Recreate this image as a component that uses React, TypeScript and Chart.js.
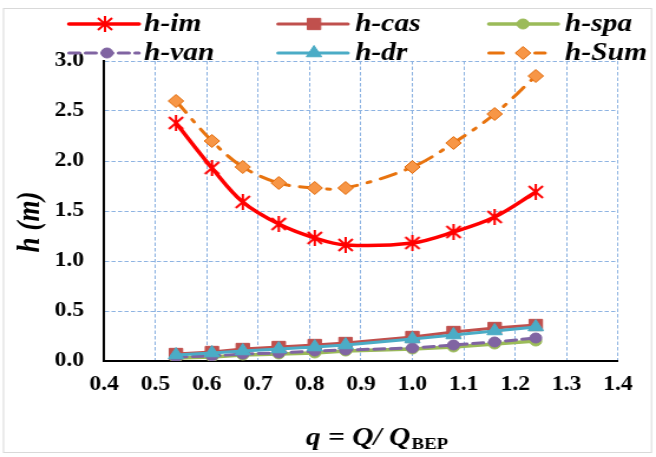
import React, { useEffect, useRef } from 'react';
import { Chart, registerables } from 'chart.js';
import { drawPoint } from 'chart.js/helpers';

Chart.register(...registerables);

const qValues = [0.54, 0.61, 0.67, 0.74, 0.81, 0.87, 1.0, 1.08, 1.16, 1.24];
const hIm = [2.38, 1.93, 1.59, 1.37, 1.23, 1.16, 1.18, 1.29, 1.44, 1.69];
const hCas = [0.07, 0.09, 0.12, 0.14, 0.16, 0.18, 0.24, 0.29, 0.33, 0.36];
const hSpa = [0.03, 0.04, 0.06, 0.07, 0.08, 0.1, 0.12, 0.14, 0.17, 0.2];
const hVan = [0.04, 0.05, 0.07, 0.08, 0.1, 0.11, 0.13, 0.16, 0.19, 0.23];
const hDr = [0.06, 0.08, 0.1, 0.12, 0.14, 0.16, 0.22, 0.26, 0.3, 0.34];
const hSum = [2.6, 2.2, 1.94, 1.78, 1.73, 1.73, 1.94, 2.18, 2.47, 2.85];

const xTicks = [0.4, 0.5, 0.6, 0.7, 0.8, 0.9, 1.0, 1.1, 1.2, 1.3, 1.4];
const yTicks = [0, 0.5, 1.0, 1.5, 2.0, 2.5, 3.0];

const seriesNames = ['h-im', 'h-cas', 'h-spa', 'h-van', 'h-dr', 'h-Sum'];

const SERIF = "'Liberation Serif', 'Times New Roman', serif";

// the reference figure is horizontally stretched; draw on a narrower canvas and stretch it by CSS
const PAGE_W = 656;
const PAGE_H = 457;
const CANVAS_W = 556;
const S = PAGE_W / CANVAS_W;

function makeStar(): HTMLCanvasElement {
  const c = document.createElement('canvas');
  c.width = 16;
  c.height = 18;
  const g = c.getContext('2d')!;
  g.strokeStyle = '#FF0000';
  g.lineWidth = 2;
  g.beginPath();
  g.moveTo(2, 3); g.lineTo(14, 15);
  g.moveTo(14, 3); g.lineTo(2, 15);
  g.moveTo(8, 1); g.lineTo(8, 17);
  g.stroke();
  return c;
}

export default function App() {
  const ref = useRef<HTMLCanvasElement | null>(null);

  useEffect(() => {
    const star = makeStar();
    const toXY = (arr: number[]) => arr.map((y, i) => ({ x: qValues[i], y }));

    const styles = [
      { color: '#FF0000', width: 3.5, dash: [] as number[], point: star as any, radius: 9, fill: '#FF0000', pborder: '#FF0000', tension: 0.35 },
      { color: '#C0504D', width: 3, dash: [], point: 'rect', radius: 8, fill: '#C0504D', pborder: '#C0504D', tension: 0 },
      { color: '#9BBB59', width: 3.5, dash: [], point: 'circle', radius: 5, fill: '#9BBB59', pborder: '#9BBB59', tension: 0 },
      { color: '#8064A2', width: 3, dash: [9, 5], point: 'circle', radius: 5, fill: '#8064A2', pborder: '#8064A2', tension: 0 },
      { color: '#4BACC6', width: 3, dash: [], point: 'triangle', radius: 7.5, fill: '#4BACC6', pborder: '#4BACC6', tension: 0 },
      { color: '#E8730E', width: 3, dash: [14, 9, 3, 9], point: 'rectRot', radius: 6.5, fill: '#F79646', pborder: '#E46C0A', tension: 0.35 },
    ];
    const values = [hIm, hCas, hSpa, hVan, hDr, hSum];

    const datasets = values.map((v, i) => ({
      label: seriesNames[i],
      data: toXY(v),
      borderColor: styles[i].color,
      borderWidth: styles[i].width,
      borderDash: styles[i].dash,
      borderCapStyle: 'round' as const,
      backgroundColor: styles[i].fill,
      pointStyle: styles[i].point,
      pointRadius: styles[i].radius,
      pointHoverRadius: styles[i].radius,
      pointBackgroundColor: styles[i].fill,
      pointBorderColor: styles[i].pborder,
      pointBorderWidth: 1,
      tension: styles[i].tension,
      fill: false,
      order: 5 - i,
    }));

    // legend layout in page pixels
    const legendPos = [
      { x0: 69, x1: 139, mx: 105, tx: 144, y: 24 },
      { x0: 278, x1: 348, mx: 314, tx: 355, y: 24 },
      { x0: 489, x1: 558, mx: 523, tx: 565, y: 24 },
      { x0: 69, x1: 139, mx: 107, tx: 144, y: 53 },
      { x0: 278, x1: 348, mx: 314, tx: 355, y: 53 },
      { x0: 489, x1: 545, mx: 523, tx: 565, y: 53 },
    ];
    const cx = (px: number) => px / S;

    const overlay = {
      id: 'overlay',
      beforeDraw(chart: any) {
        const ctx = chart.ctx;
        ctx.save();
        ctx.fillStyle = '#FFFFFF';
        ctx.fillRect(0, 0, chart.width, chart.height);
        ctx.strokeStyle = '#D9D9D9';
        ctx.lineWidth = 1;
        ctx.strokeRect(cx(3.5), 8.5, cx(648), 444);
        ctx.restore();
      },
      afterDraw(chart: any) {
        const ctx = chart.ctx;
        ctx.save();
        legendPos.forEach((p, i) => {
          const s = styles[i];
          ctx.save();
          ctx.strokeStyle = s.color;
          ctx.lineWidth = s.width;
          ctx.lineCap = 'round';
          ctx.setLineDash(i === 5 ? [12, 12, 3, 12] : s.dash);
          ctx.beginPath();
          ctx.moveTo(cx(p.x0), p.y);
          ctx.lineTo(cx(p.x1), p.y);
          ctx.stroke();
          ctx.restore();
          ctx.save();
          ctx.fillStyle = s.fill;
          ctx.strokeStyle = s.pborder;
          ctx.setLineDash([]);
          drawPoint(ctx, { pointStyle: s.point, radius: s.radius, borderWidth: 1, rotation: 0 } as any, cx(p.mx), p.y);
          ctx.restore();
          ctx.fillStyle = '#000000';
          ctx.font = `italic bold 25px ${SERIF}`;
          ctx.textAlign = 'left';
          ctx.textBaseline = 'middle';
          ctx.fillText(seriesNames[i], cx(p.tx), p.y + 1);
        });
        // y title
        ctx.save();
        ctx.translate(cx(31), 222);
        ctx.rotate(-Math.PI / 2);
        ctx.font = `italic bold 27px ${SERIF}`;
        ctx.textAlign = 'center';
        ctx.textBaseline = 'middle';
        ctx.fillStyle = '#000';
        ctx.fillText('h (m)', 0, 0);
        ctx.restore();
        // x title
        const main = 'q = Q/ Q';
        const sub = 'BEP';
        ctx.font = `italic bold 25px ${SERIF}`;
        const wMain = ctx.measureText(main).width;
        ctx.font = `bold 16px ${SERIF}`;
        const wSub = ctx.measureText(sub).width;
        const startX = cx(377) - (wMain + wSub + 1) / 2;
        ctx.textAlign = 'left';
        ctx.textBaseline = 'alphabetic';
        ctx.fillStyle = '#000';
        ctx.font = `italic bold 25px ${SERIF}`;
        ctx.fillText(main, startX, 445);
        ctx.font = `bold 16px ${SERIF}`;
        ctx.fillText(sub, startX + wMain + 1, 449);
        ctx.restore();
      },
    };

    const chart = new Chart(ref.current!, {
      type: 'line',
      data: { datasets },
      options: {
        animation: false,
        responsive: false,
        devicePixelRatio: 1,
        events: [],
        layout: { padding: { top: 61, right: CANVAS_W - cx(618), left: 0, bottom: 0 } },
        plugins: { legend: { display: false }, tooltip: { enabled: false }, title: { display: false } },
        scales: {
          x: {
            type: 'linear',
            min: 0.4,
            max: 1.4,
            afterFit: (s: any) => { s.height = 96; },
            afterBuildTicks: (s: any) => { s.ticks = xTicks.map((v) => ({ value: v })); },
            ticks: {
              color: '#000',
              padding: 12,
              maxRotation: 0,
              autoSkip: false,
              font: { family: SERIF, weight: 'bold', size: 20 },
              callback: (v: any) => Number(v).toFixed(1),
            },
            grid: { color: '#8DB3E2', lineWidth: 1, drawTicks: false },
            border: { display: true, color: '#000', width: 2, dash: [3.5, 2] as any },
          },
          y: {
            type: 'linear',
            min: 0,
            max: 3,
            afterFit: (s: any) => { s.width = cx(104); },
            afterBuildTicks: (s: any) => { s.ticks = yTicks.map((v) => ({ value: v })); },
            ticks: {
              color: '#000',
              padding: 17,
              autoSkip: false,
              font: { family: SERIF, weight: 'bold', size: 20 },
              callback: (v: any) => Number(v).toFixed(1),
            },
            grid: { color: '#8DB3E2', lineWidth: 1, drawTicks: false },
            border: { display: true, color: '#000', width: 2, dash: [3.5, 2] as any },
          },
        },
      } as any,
      plugins: [overlay],
    });
    return () => chart.destroy();
  }, []);

  return (
    <div style={{ position: 'absolute', left: 0, top: 0, width: PAGE_W, height: PAGE_H, background: '#fff', overflow: 'hidden' }}>
      <canvas
        ref={ref}
        width={CANVAS_W}
        height={PAGE_H}
        style={{ display: 'block', width: PAGE_W, height: PAGE_H }}
      />
    </div>
  );
}
